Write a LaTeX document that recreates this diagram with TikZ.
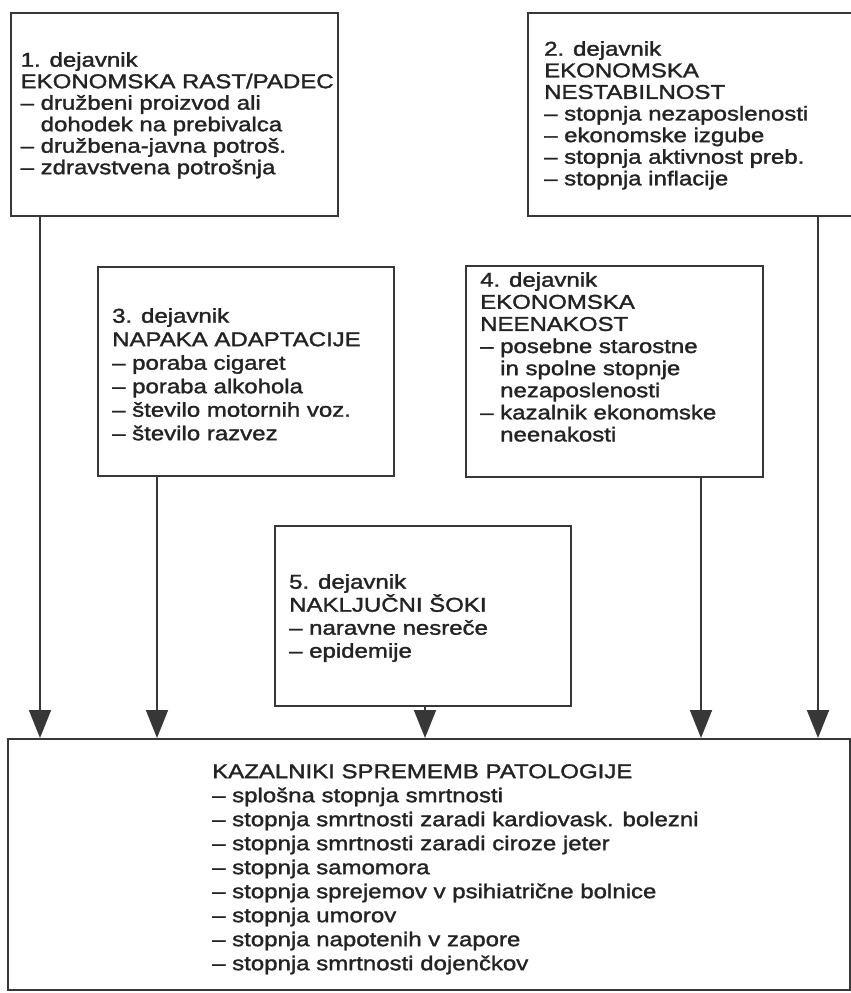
\documentclass[tikz,border=0pt]{standalone}
\usepackage{fontspec}
\setmainfont{Liberation Sans}[FakeStretch=1.2, FakeBold=1.6]
\usepackage{tikz}
\usetikzlibrary{arrows.meta, positioning}
\definecolor{inkgray}{RGB}{35, 35, 35}
\definecolor{linegray}{RGB}{55, 55, 55}
\newcommand{\factorfont}[1]{\fontsize{20}{#1}\selectfont}

\begin{document}
\begin{tikzpicture}[
  x=1pt, y=-1pt,
  box/.style={draw=linegray, line width=1.8pt, anchor=north west, inner sep=0pt},
  txt/.style={anchor=north west, align=left, inner sep=0pt, text=inkgray},
  arrow/.style={-{Triangle[length=28pt, width=22pt]}, line width=1.8pt, draw=linegray, fill=linegray}
]
\clip (0,0) rectangle (851,993);

% Factor boxes
\node[box, minimum width=327pt, minimum height=203pt] (f1) at (10,12) {};
\node[box, minimum width=335pt, minimum height=203pt] (f2) at (527,12) {};
\node[box, minimum width=296pt, minimum height=209pt] (f3) at (97,266) {};
\node[box, minimum width=297pt, minimum height=211pt] (f4) at (465,265) {};
\node[box, minimum width=296pt, minimum height=180pt] (f5) at (274,525) {};

% Pathology box
\node[box, minimum width=842pt, minimum height=251pt] (patol) at (7,738) {};

% Texts
\node[txt, font=\factorfont{21.5}] (t1) at (20.5,52) {1. dejavnik\\
  EKONOMSKA RAST/PADEC\\
  – družbeni proizvod ali\\
  \hphantom{– }dohodek na prebivalca\\
  – družbena-javna potroš.\\
  – zdravstvena potrošnja};
\node[txt, font=\factorfont{21.6}] (t2) at (544,41) {2. dejavnik\\
  EKONOMSKA\\
  NESTABILNOST\\
  – stopnja nezaposlenosti\\
  – ekonomske izgube\\
  – stopnja aktivnost preb.\\
  – stopnja inflacije};
\node[txt, font=\factorfont{23.5}] (t3) at (112,308) {3. dejavnik\\
  NAPAKA ADAPTACIJE\\
  – poraba cigaret\\
  – poraba alkohola\\
  – število motornih voz.\\
  – število razvez};
\node[txt, font=\factorfont{22.1}] (t4) at (480,272) {4. dejavnik\\
  EKONOMSKA\\
  NEENAKOST\\
  – posebne starostne\\
  \hphantom{– }in spolne stopnje\\
  \hphantom{– }nezaposlenosti\\
  – kazalnik ekonomske\\
  \hphantom{– }neenakosti};
\node[txt, font=\factorfont{23}] (t5) at (289,574) {5. dejavnik\\
  NAKLJUČNI ŠOKI\\
  – naravne nesreče\\
  – epidemije};
\node[txt, font=\factorfont{24}] (t6) at (212,764) {KAZALNIKI SPREMEMB PATOLOGIJE\\
  – splošna stopnja smrtnosti\\
  – stopnja smrtnosti zaradi kardiovask. bolezni\\
  – stopnja smrtnosti zaradi ciroze jeter\\
  – stopnja samomora\\
  – stopnja sprejemov v psihiatrične bolnice\\
  – stopnja umorov\\
  – stopnja napotenih v zapore\\
  – stopnja smrtnosti dojenčkov};

% Arrows down to the pathology box
\coordinate (a1) at ([xshift=30pt]f1.south west);
\coordinate (a3) at ([xshift=60pt]f3.south west);
\coordinate (a5) at ([xshift=151pt]f5.south west);
\coordinate (a4) at ([xshift=236pt]f4.south west);
\coordinate (a2) at ([xshift=291pt]f2.south west);
\draw[arrow] (a1) -- (a1 |- patol.north);
\draw[arrow] (a3) -- (a3 |- patol.north);
\draw[arrow] (a5) -- (a5 |- patol.north);
\draw[arrow] (a4) -- (a4 |- patol.north);
\draw[arrow] (a2) -- (a2 |- patol.north);

\end{tikzpicture}
\end{document}
